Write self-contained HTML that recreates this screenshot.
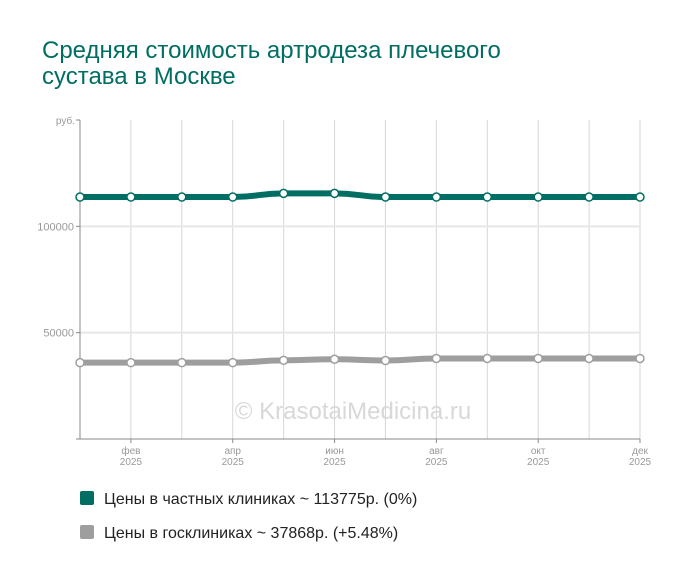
<!DOCTYPE html>
<html><head><meta charset="utf-8"><style>
body{margin:0;background:#fff;font-family:"Liberation Sans",sans-serif;}
#wrap{position:relative;width:700px;height:583px;overflow:hidden;}
h1{position:absolute;left:42px;top:38px;margin:0;font-weight:normal;font-size:24px;line-height:26px;color:#006e62;}
.leg{position:absolute;left:80px;font-size:16px;color:#222;}
.sw{display:inline-block;width:14px;height:14px;border-radius:2px;vertical-align:-1px;margin-right:10px;}
</style></head><body>
<div id="wrap">
<h1>Средняя стоимость артродеза плечевого<br>сустава в Москве</h1>
<svg id="chart" width="700" height="583" style="position:absolute;left:0;top:0"></svg>
<div class="leg" style="top:491px"><span class="sw" style="background:#006e62"></span>Цены в частных клиниках ~ 113775р. (0%)</div>
<div class="leg" style="top:525px"><span class="sw" style="background:#9e9e9e"></span>Цены в госклиниках ~ 37868р. (+5.48%)</div>
</div>
<script>
const months=["янв","фев","мар","апр","май","июн","июл","авг","сен","окт","ноя","дек"];
const tickMonths=["фев","апр","июн","авг","окт","дек"];
const yTicks=[50000,100000];
const privateVals=[113775,113775,113775,113775,115500,115500,113775,113775,113775,113775,113775,113775];
const publicVals=[35900,35900,35900,35900,37000,37500,36900,37868,37868,37868,37868,37868];
const NS="http://www.w3.org/2000/svg";
const svg=document.getElementById('chart');
const x0=80,x1=640,yb=439,yt=120,ymax=150000;
const X=i=>x0+i*(x1-x0)/(months.length-1);
const Y=v=>yb-v/ymax*(yb-yt);
function mk(t,a,p){const e=document.createElementNS(NS,t);for(const k in a)e.setAttribute(k,a[k]);(p||svg).appendChild(e);return e;}
months.forEach((m,i)=>{if(i>0){const l=mk('line',{x1:X(i),x2:X(i),y1:yt,y2:yb,stroke:'#d6d6d6'});

}});
yTicks.forEach(v=>{const l=mk('line',{x1:x0,x2:x1,y1:Y(v),y2:Y(v),stroke:'#e6e6e6','stroke-width':2});


const t=mk('text',{x:x0-6,y:Y(v)+4,'text-anchor':'end','font-size':11,fill:'#999'});t.textContent=v;


mk('line',{x1:x0-4,x2:x0,y1:Y(v),y2:Y(v),stroke:'#888'});});
mk('line',{x1:x0,x2:x0,y1:yt,y2:yb,stroke:'#888'});
mk('line',{x1:x0-4,x2:x1,y1:yb,y2:yb,stroke:'#888'});
mk('line',{x1:x0-4,x2:x0,y1:yt,y2:yt,stroke:'#888'});
const ru=mk('text',{x:x0-5,y:yt+4,'text-anchor':'end','font-size':10,fill:'#999'});ru.textContent='руб.';


months.forEach((m,i)=>{if(tickMonths.includes(m)){mk('line',{x1:X(i),x2:X(i),y1:yb,y2:yb+4,stroke:'#888'});
const t=mk('text',{x:X(i),y:yb+15,'text-anchor':'middle','font-size':10,fill:'#999'});t.textContent=m;


const t2=mk('text',{x:X(i),y:yb+26,'text-anchor':'middle','font-size':10,fill:'#999'});t2.textContent='2025';

}});
const wm=mk('text',{x:353,y:419,'text-anchor':'middle','font-size':24,fill:'#d8d8d8'});wm.textContent='© KrasotaiMedicina.ru';


function series(vals,color,name){let d='';vals.forEach((v,i)=>{if(i==0)d+=`M${X(0)},${Y(v)}`;else{const xm=(X(i-1)+X(i))/2;d+=` C${xm},${Y(vals[i-1])} ${xm},${Y(v)} ${X(i)},${Y(v)}`;}});
const p=mk('path',{d,fill:'none',stroke:color,'stroke-width':6,'stroke-linecap':'round'});


vals.forEach((v,i)=>{const c=mk('circle',{cx:X(i),cy:Y(v),r:4,fill:'#fff',stroke:color,'stroke-width':1.5});

});}
series(publicVals,'#9e9e9e','public-clinics');
series(privateVals,'#006e62','private-clinics');
</script>
</body></html>
